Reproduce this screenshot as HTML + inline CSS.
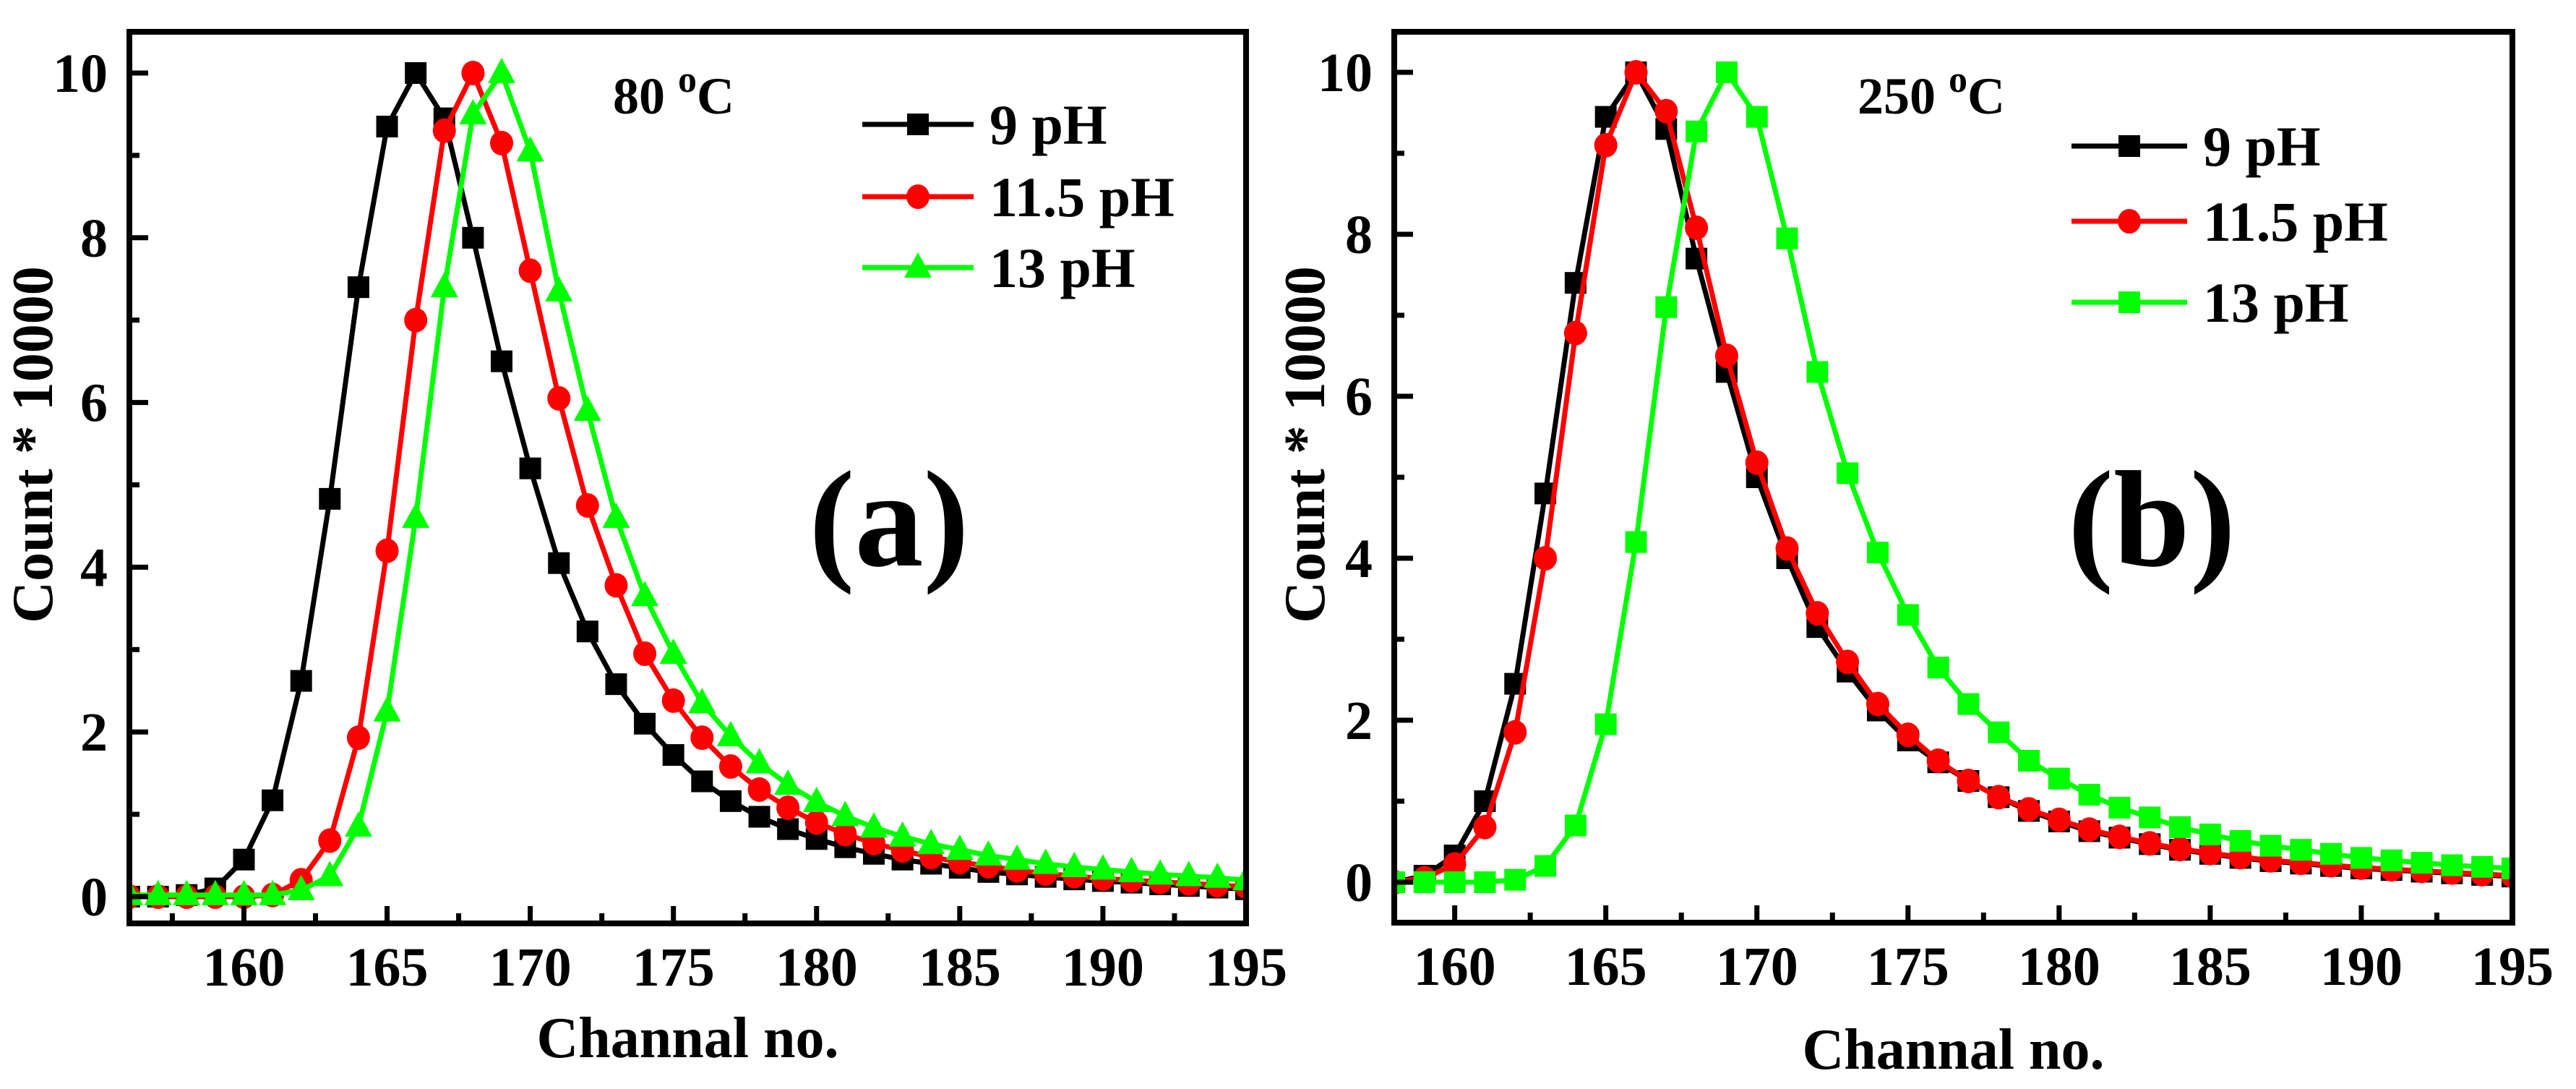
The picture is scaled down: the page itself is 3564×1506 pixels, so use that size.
<!DOCTYPE html>
<html><head><meta charset="utf-8"><style>
html,body{margin:0;padding:0;background:#fff}
svg{display:block}
text{font-family:"Liberation Serif",serif;font-weight:bold;fill:#000}
</style></head><body>
<svg id="chart" width="3564" height="1506" viewBox="0 0 3564 1506" xmlns="http://www.w3.org/2000/svg"></svg>
<script>
const channelsA = [];for(let c=156;c<=195;c++)channelsA.push(c);
const channelsB = [];for(let c=158;c<=195;c++)channelsB.push(c);
const a9 = [0,0,0.02,0.1,0.45,1.17,2.62,4.83,7.4,9.35,10,9.45,8.0,6.5,5.2,4.05,3.22,2.58,2.1,1.72,1.4,1.16,0.97,0.82,0.7,0.6,0.52,0.45,0.4,0.35,0.3,0.27,0.24,0.21,0.19,0.17,0.15,0.13,0.11,0.09];
const a115 = [0,0,0,0,0,0.02,0.2,0.68,1.93,4.2,7.0,9.3,10,9.15,7.6,6.05,4.75,3.78,2.95,2.38,1.93,1.58,1.3,1.08,0.9,0.76,0.65,0.56,0.48,0.42,0.37,0.32,0.28,0.25,0.22,0.2,0.18,0.16,0.14,0.12];
const a13 = [0.02,0.02,0.02,0.02,0.02,0.02,0.08,0.25,0.85,2.25,4.6,7.4,9.5,10,9.05,7.35,5.9,4.6,3.65,2.95,2.35,1.95,1.62,1.36,1.15,0.98,0.84,0.73,0.64,0.57,0.5,0.45,0.4,0.36,0.33,0.3,0.27,0.25,0.23,0.2];
const b9 = [0,0.08,0.33,1.0,2.45,4.8,7.4,9.45,10,9.3,7.7,6.3,5.0,4.0,3.15,2.6,2.12,1.75,1.48,1.25,1.05,0.88,0.75,0.63,0.55,0.47,0.4,0.35,0.3,0.26,0.23,0.2,0.17,0.15,0.13,0.11,0.09,0.07];
const b115 = [0,0.05,0.22,0.68,1.85,4.0,6.78,9.1,10,9.52,8.08,6.5,5.18,4.12,3.32,2.72,2.2,1.82,1.5,1.25,1.05,0.9,0.77,0.65,0.56,0.48,0.41,0.36,0.31,0.27,0.24,0.21,0.18,0.16,0.14,0.12,0.1,0.08];
const b13 = [0,0,0,0,0.03,0.2,0.7,1.95,4.2,7.1,9.27,10,9.45,7.95,6.3,5.05,4.07,3.3,2.65,2.2,1.85,1.5,1.28,1.08,0.92,0.8,0.68,0.59,0.51,0.45,0.4,0.35,0.3,0.27,0.24,0.21,0.19,0.17];
const xTicks = [160,165,170,175,180,185,190,195];
const yTicks = [0,2,4,6,8,10];
const legendLabels = ["9 pH","11.5 pH","13 pH"];

const NS="http://www.w3.org/2000/svg";
const svg=document.getElementById('chart');
function mk(tag,attrs,parent){const e=document.createElementNS(NS,tag);for(const k in attrs)e.setAttribute(k,attrs[k]);(parent||svg).appendChild(e);return e;}

function marker(g,shape,x,y,color,name){
  let e;
  if(shape==='square'){e=mk('rect',{x:x-15,y:y-15,width:30,height:30,fill:color},g);}
  else if(shape==='circle'){e=mk('ellipse',{cx:x,cy:y,rx:16,ry:17,fill:color},g);}
  else {e=mk('polygon',{points:`${x},${y-21} ${x+19},${y+14} ${x-19},${y+14}`,fill:color},g);}
  
  
  return e;
}

function panel(p){
  const g=mk('g',{});
  
  
  const X=c=>p.L+(c-p.x0)*(p.R-p.L)/(p.x1-p.x0);
  const Y=v=>p.y0px+(v)*(p.y10px-p.y0px)/10;
  const clip=mk('clipPath',{id:'clip-'+p.id},g);
  mk('rect',{x:p.L,y:p.T,width:p.R-p.L,height:p.B-p.T},clip);
  const plot=mk('g',{'clip-path':`url(#clip-${p.id})`},g);
  
  
  p.series.forEach((s,si)=>{
    const sg=mk('g',{},plot);
    
    
    const pts=p.channels.map((c,i)=>X(c)+','+Y(s.data[i])).join(' ');
    const pl=mk('polyline',{points:pts,fill:'none',stroke:s.color,'stroke-width':7,'stroke-linejoin':'round'},sg);
    
    
    p.channels.forEach((c,i)=>marker(sg,s.shape,X(c),Y(s.data[i]),s.color,'point-'+s.name));
  });
  const fr=mk('rect',{x:p.L,y:p.T,width:p.R-p.L,height:p.B-p.T,fill:'none',stroke:'#000','stroke-width':8},g);
  
  
  for(let c=Math.ceil(p.x0/2.5)*2.5;c<=p.x1+0.01;c+=2.5){
    const major=(c%5===0);
    const t=mk('line',{x1:X(c),x2:X(c),y1:p.B,y2:p.B-(major?24:14),stroke:'#000','stroke-width':7},g);
    
    
  }
  xTicks.forEach(c=>{
    const t=mk('text',{x:X(c),y:p.B+86,'text-anchor':'middle','font-size':76},g);t.textContent=c;
    
    
  });
  for(let v=0;v<=10;v++){
    const major=(v%2===0);
    const t=mk('line',{x1:p.L,x2:p.L+(major?26:14),y1:Y(v),y2:Y(v),stroke:'#000','stroke-width':7},g);
    
    
  }
  yTicks.forEach(v=>{
    const t=mk('text',{x:p.L-30,y:Y(v)+26,'text-anchor':'end','font-size':76},g);t.textContent=v;
    
    
  });
  const xt=mk('text',{x:(p.L+p.R)/2,y:p.xtY,'text-anchor':'middle','font-size':80},g);xt.textContent='Channal no.';
  
  
  const yt=mk('text',{x:0,y:0,'text-anchor':'middle','font-size':80,transform:`translate(${p.ytX},615) rotate(-90)`},g);yt.textContent='Count * 10000';
  
  
  const tt=mk('text',{x:p.tempX,y:157,'font-size':72},g);
  tt.innerHTML=p.temp+' <tspan dy="-30" font-size="52">o</tspan><tspan dy="30">C</tspan>';
  
  
  const pl=mk('text',{x:p.labX,y:782,'text-anchor':'middle','font-size':190},g);pl.textContent=p.label;
  
  
  p.series.forEach((s,i)=>{
    const lg=mk('g',{},g);
    
    
    const y=p.legY[i];
    mk('line',{x1:p.legX,x2:p.legX+p.legW,y1:y,y2:y,stroke:s.color,'stroke-width':7},lg);
    marker(lg,s.shape,p.legX+p.legW/2,y,s.color,'legend-marker');
    const t=mk('text',{x:p.legX+p.legW+22,y:y+27,'font-size':78},lg);t.textContent=legendLabels[i];
  });
}

panel({id:'panel-a',L:179,R:1724,T:44,B:1277,x0:156,x1:195,y0px:1240,y10px:101,channels:channelsA,
  series:[{name:'9pH',data:a9,color:'#000',shape:'square'},{name:'11.5pH',data:a115,color:'#ff0000',shape:'circle'},{name:'13pH',data:a13,color:'#00ff00',shape:'triangle'}],
  xtY:1462,ytX:72,temp:'80',tempX:848,labX:1230,label:'(a)',legX:1193,legW:154,legY:[172,272,370]});
panel({id:'panel-b',L:1929,R:3476,T:44,B:1276,x0:158,x1:195,y0px:1220,y10px:100,channels:channelsB,
  series:[{name:'9pH',data:b9,color:'#000',shape:'square'},{name:'11.5pH',data:b115,color:'#ff0000',shape:'circle'},{name:'13pH',data:b13,color:'#00ff00',shape:'square'}],
  xtY:1478,ytX:1832,temp:'250',tempX:2570,labX:2977,label:'(b)',legX:2866,legW:160,legY:[202,306,418]});
</script>
</body></html>
